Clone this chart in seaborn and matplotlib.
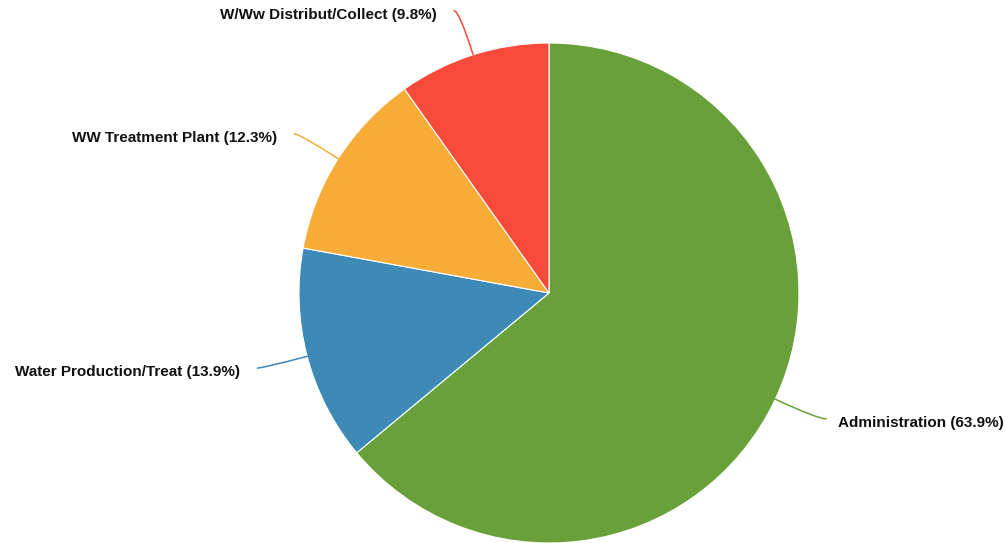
import numpy as np
import seaborn as sns
import matplotlib.pyplot as plt

# slice data, clockwise from 12 o'clock
categories = ['Administration', 'Water Production/Treat', 'WW Treatment Plant', 'W/Ww Distribut/Collect']
shares = [63.9, 13.9, 12.3, 9.8]
colors = ['#6AA03A', '#3D8AB6', '#F8AC38', '#F84A3A']

sns.set_theme(style='white')
plt.rcParams['font.family'] = ['Liberation Sans', 'DejaVu Sans']

W, H = 1006, 543
fig = plt.figure(figsize=(W / 100, H / 100), dpi=100)
ax = fig.add_axes([0, 0, 1, 1])

cx, cy, R = 549, H - 293, 250
wedges, _ = ax.pie(shares, colors=colors, startangle=90, counterclock=False,
                   center=(cx, cy), radius=R, normalize=True,
                   wedgeprops=dict(edgecolor='white', linewidth=0.8))

ax.set_xlim(0, W)
ax.set_ylim(0, H)
ax.set_aspect('equal')
ax.axis('off')

# labels with curved leader lines
for w, name, val, col in zip(wedges, categories, shares, colors):
    mid = np.deg2rad((w.theta1 + w.theta2) / 2)
    ex, ey = cx + R * np.cos(mid), cy + R * np.sin(mid)
    right = np.cos(mid) > 0
    sgn = 1 if right else -1
    # bend point on the radial line, then a short horizontal run
    ty = cy + 1.185 * R * np.sin(mid)
    bx = cx + (ty - cy) / np.tan(mid)
    tx = bx + (9 if right else -5)
    ax.annotate('', xy=(ex, ey), xytext=(tx, ty),
                arrowprops=dict(arrowstyle='-', color=col, lw=1.1,
                                shrinkA=0, shrinkB=0,
                                connectionstyle=f'angle3,angleA=0,angleB={np.rad2deg(mid):.1f}'))
    ax.text(tx + sgn * (12 if right else 17), ty - 4, f'{name} ({val}%)',
            ha='left' if right else 'right', va='center',
            fontsize=11, fontweight='bold', color='#111111')

fig.savefig('out.png', dpi=100)
